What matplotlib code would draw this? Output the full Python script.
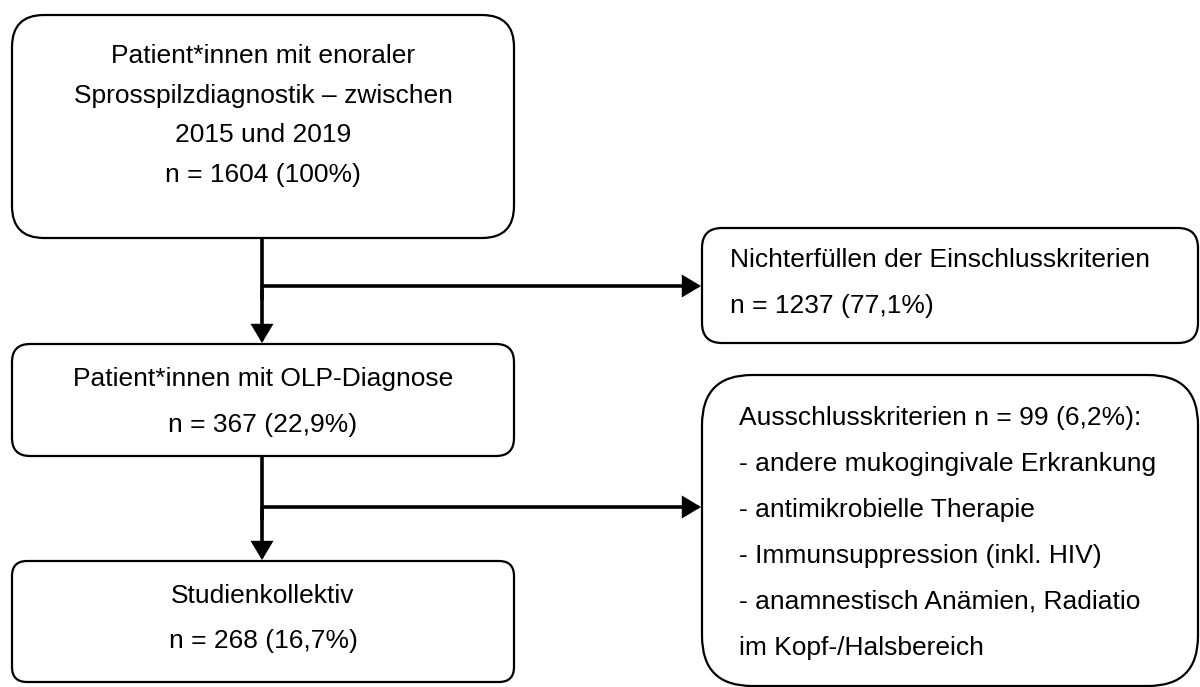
import matplotlib
matplotlib.use("Agg")
import matplotlib.pyplot as plt
from matplotlib.patches import FancyBboxPatch

# ---- content ----
box1_lines = ["Patient*innen mit enoraler",
              "Sprosspilzdiagnostik \u2013 zwischen",
              "2015 und 2019",
              "n = 1604 (100%)"]
box2_lines = ["Patient*innen mit OLP-Diagnose", "n = 367 (22,9%)"]
box3_lines = ["Studienkollektiv", "n = 268 (16,7%)"]
excl1_lines = ["Nichterf\u00fcllen der Einschlusskriterien", "n = 1237 (77,1%)"]
excl2_lines = ["Ausschlusskriterien n = 99 (6,2%):",
               "- andere mukogingivale Erkrankung",
               "- antimikrobielle Therapie",
               "- Immunsuppression (inkl. HIV)",
               "- anamnestisch An\u00e4mien, Radiatio",
               "im Kopf-/Halsbereich"]

plt.rcParams['font.family'] = ['Liberation Sans', 'DejaVu Sans']

fig = plt.figure(figsize=(12, 6.87), dpi=100)
ax = fig.add_axes([0, 0, 1, 1])
ax.set_xlim(0, 1200)
ax.set_ylim(687, 0)
ax.axis('off')

FS = 19
BOX_LW = 1.6
ARR_LW = 2.6


def box(x0, y0, x1, y1, r):
    p = FancyBboxPatch((x0, y0), x1 - x0, y1 - y0,
                       boxstyle=f"round,pad=0,rounding_size={r}",
                       fc='white', ec='black', lw=BOX_LW, zorder=2)
    ax.add_patch(p)


def lines(txts, x, y_first, step, ha='center'):
    for i, t in enumerate(txts):
        ax.text(x, y_first + i * step, t, ha=ha, va='baseline',
                fontsize=FS, color='black', zorder=3)


def arrow(x0, y0, x1, y1):
    ax.annotate('', xy=(x1, y1), xytext=(x0, y0),
                arrowprops=dict(arrowstyle='-|>,head_length=0.5,head_width=0.3',
                                mutation_scale=20, lw=ARR_LW, color='black',
                                joinstyle='miter',
                                shrinkA=0, shrinkB=0), zorder=1)


# main boxes
box(12, 15, 514, 238, 32)
lines(box1_lines, 263, 63, 39.7)
box(12, 344, 514, 456, 18)
lines(box2_lines, 263, 386, 46)
box(12, 561, 514, 682, 15)
lines(box3_lines, 263, 603, 45)

# exclusion boxes
box(702, 228, 1198, 343, 20)
lines(excl1_lines, 730, 267, 46, ha='left')
box(702, 375, 1198, 686, 50)
lines(excl2_lines, 739, 425, 46, ha='left')

# connectors
cx = 262
ax.plot([cx, cx], [238, 300], color='black', lw=ARR_LW, zorder=1, solid_capstyle='butt')
arrow(cx, 290, cx, 343)
arrow(cx, 286, 701, 286)
ax.plot([cx, cx], [456, 520], color='black', lw=ARR_LW, zorder=1, solid_capstyle='butt')
arrow(cx, 510, cx, 560)
arrow(cx, 507, 701, 507)

fig.savefig('out.png', dpi=100, facecolor='white')
